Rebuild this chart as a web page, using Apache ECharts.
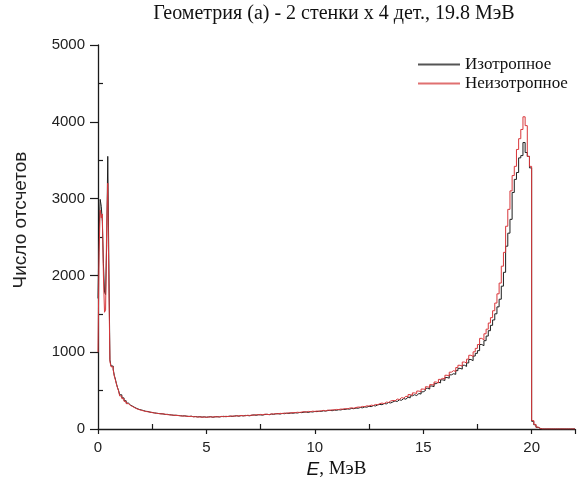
<!DOCTYPE html>
<html><head><meta charset="utf-8">
<script src="https://cdn.jsdelivr.net/npm/echarts@6/dist/echarts.min.js"></script>
<style>html,body{margin:0;padding:0;background:#fff}#c{width:587px;height:494px}</style>
</head><body><div id="c"></div>
<script>
const titleText = 'Геометрия (а) - 2 стенки х 4 дет., 19.8 МэВ';
const seriesNames = ['Изотропное', 'Неизотропное'];
const xAxisName = ['E', ', МэВ'];
const yAxisName = 'Число отсчетов';
const xTickLabels = [0, 5, 10, 15, 20];
const yTickLabels = [0, 1000, 2000, 3000, 4000, 5000];

// Histogram binning: 0.05 MeV bins on 0..1 MeV, 0.1 MeV bins on 1..22 MeV
const fineStart = 0, fineWidth = 0.05;
const coarseStart = 1, coarseWidth = 0.1;
const xMax = 22;

// counts, 0..1 MeV (0.05 MeV bins)
const isoFine   = [1700, 2550, 2990, 2900, 2700, 2150, 1780, 1750, 2400, 3550, 2200, 900, 820, 820, 780, 700, 650, 590, 540, 500];
const anisoFine = [1000, 2300, 2850, 2750, 2800, 2000, 1520, 1550, 2650, 3200, 1900, 880, 810, 810, 770, 690, 640, 585, 535, 495];

// counts, 1..22 MeV (0.1 MeV bins)
const isoCoarse = [
  445, 405, 368, 338, 312, 296, 280, 266, 255, 248,
  240, 231, 228, 219, 216, 209, 206, 201, 199, 196,
  190, 191, 185, 183, 178, 180, 175, 173, 170, 172,
  166, 164, 167, 160, 162, 157, 160, 155, 158, 154,
  157, 160, 153, 158, 161, 156, 162, 165, 160, 164,
  168, 163, 170, 172, 167, 174, 170, 177, 175, 172,
  180, 184, 178, 186, 183, 181, 189, 192, 186, 194,
  191, 197, 200, 194, 203, 199, 206, 202, 209, 205,
  211, 208, 216, 213, 219, 222, 215, 225, 221, 228,
  226, 232, 229, 237, 233, 240, 244, 238, 247, 243,
  251, 248, 257, 254, 262, 258, 268, 264, 273, 270,
  280, 276, 288, 284, 296, 291, 305, 300, 314, 320,
  316, 332, 327, 345, 339, 352, 366, 358, 380, 374,
  396, 388, 414, 405, 432, 446, 436, 462, 455, 484,
  500, 530, 520, 560, 552, 590, 610, 600, 640, 632,
  670, 662, 705, 720, 712, 760, 790, 780, 830, 815,
  860, 905, 890, 950, 985, 1020, 1100, 1085, 1150, 1210,
  1280, 1350, 1420, 1500, 1590, 1690, 1860, 2040, 2380, 2550,
  2730, 3080, 3250, 3340, 3530, 3560, 3730, 3600, 3550, 3400,
  100, 55, 22, 8, 0, 0, 0, 0, 0, 0,
  0, 0, 0, 0, 0, 0, 0, 0, 0, 0
];
const anisoCoarse = [
  430, 395, 360, 330, 306, 292, 276, 262, 252, 244,
  236, 229, 224, 221, 213, 210, 204, 202, 196, 198,
  192, 187, 186, 181, 180, 176, 177, 171, 169, 168,
  167, 162, 165, 159, 160, 156, 158, 153, 157, 152,
  156, 158, 155, 161, 157, 160, 164, 159, 166, 162,
  166, 170, 165, 173, 169, 176, 173, 171, 179, 176,
  182, 179, 187, 184, 190, 185, 193, 190, 188, 197,
  195, 200, 197, 204, 201, 208, 204, 211, 208, 214,
  213, 218, 215, 221, 226, 219, 229, 225, 232, 229,
  234, 230, 238, 242, 236, 246, 243, 250, 248, 255,
  253, 260, 257, 266, 262, 271, 276, 270, 280, 286,
  284, 294, 290, 302, 298, 311, 306, 320, 316, 330,
  338, 330, 350, 346, 364, 372, 366, 390, 384, 408,
  402, 426, 420, 448, 440, 470, 462, 494, 486, 520,
  514, 550, 540, 578, 570, 612, 600, 646, 660, 650,
  700, 690, 740, 760, 748, 800, 830, 818, 872, 860,
  910, 960, 945, 1005, 1050, 1100, 1180, 1160, 1240, 1300,
  1380, 1450, 1540, 1640, 1760, 1900, 2120, 2300, 2640, 2860,
  3100, 3300, 3420, 3640, 3780, 3900, 4065, 3950, 3550, 3420,
  110, 60, 25, 8, 0, 0, 0, 0, 0, 0,
  0, 0, 0, 0, 0, 0, 0, 0, 0, 0
];

function histPairs(fine, coarse) {
  const out = [];
  fine.forEach((v, i) => out.push([+(fineStart + i * fineWidth).toFixed(3), v]));
  coarse.forEach((v, i) => out.push([+(coarseStart + i * coarseWidth).toFixed(3), v]));
  out.push([xMax, coarse[coarse.length - 1]]);
  return out;
}

const colors = ['#1e1e1e', '#d9373b'];
const axisColor = '#1a1a1a';
const chart = echarts.init(document.getElementById('c'), null, {renderer: 'canvas'});
chart.setOption({
  animation: false,
  backgroundColor: '#fff',
  color: colors,
  graphic: [
    {type: 'text', x: 334, y: 14, style: {text: titleText, align: 'center', verticalAlign: 'middle', font: '20px "Liberation Serif"', fill: '#111'}},
    {type: 'text', x: 21, y: 220, rotation: Math.PI / 2, style: {text: yAxisName, align: 'center', verticalAlign: 'middle', font: '19px "Liberation Sans"', fill: '#222'}}
  ],
  legend: {
    orient: 'vertical', left: 413, top: 50, itemWidth: 42, itemHeight: 2, itemGap: 0,
    icon: 'rect',
    textStyle: {fontFamily: 'Liberation Serif', fontSize: 17, color: '#111', lineHeight: 19},
    data: [
      {name: seriesNames[0], itemStyle: {color: '#555'}},
      {name: seriesNames[1], itemStyle: {color: '#e07070'}}
    ]
  },
  grid: {left: 98, right: 12, top: 45, bottom: 65},
  xAxis: {
    type: 'value', min: 0, max: xMax, interval: 5,
    name: '{i|' + xAxisName[0] + '}{n|' + xAxisName[1] + '}',
    nameLocation: 'middle', nameGap: 27,
    nameTextStyle: {rich: {
      i: {fontFamily: 'Liberation Sans', fontStyle: 'italic', fontSize: 19, color: '#111'},
      n: {fontFamily: 'Liberation Serif', fontSize: 19, color: '#111'}
    }},
    axisLine: {onZero: false, lineStyle: {color: axisColor, width: 1.3}},
    axisTick: {inside: false, length: 5, lineStyle: {color: axisColor, width: 1.2}},
    minorTick: {show: true, splitNumber: 2, length: -5, lineStyle: {color: axisColor, width: 1.2}},
    axisLabel: {fontFamily: 'Liberation Sans', fontSize: 15, color: '#222', margin: 11,
      formatter: v => xTickLabels.indexOf(v) >= 0 ? String(v) : ''},
    splitLine: {show: false}
  },
  yAxis: {
    type: 'value', min: 0, max: 5000, interval: 1000,
    axisLine: {onZero: false, lineStyle: {color: axisColor, width: 1.3}},
    axisTick: {inside: false, length: 8, lineStyle: {color: axisColor, width: 1.2}},
    minorTick: {show: true, splitNumber: 2, length: -5, lineStyle: {color: axisColor, width: 1.2}},
    axisLabel: {fontFamily: 'Liberation Sans', fontSize: 15, color: '#222', margin: 13,
      formatter: v => yTickLabels.indexOf(v) >= 0 ? String(v) : ''},
    splitLine: {show: false}
  },
  series: [
    {name: seriesNames[0], type: 'line', step: 'end', symbol: 'none', data: histPairs(isoFine, isoCoarse),
      lineStyle: {width: 1, color: colors[0]}, itemStyle: {color: colors[0]}},
    {name: seriesNames[1], type: 'line', step: 'end', symbol: 'none', data: histPairs(anisoFine, anisoCoarse),
      lineStyle: {width: 1, color: colors[1]}, itemStyle: {color: colors[1]}}
  ]
});
</script></body></html>
